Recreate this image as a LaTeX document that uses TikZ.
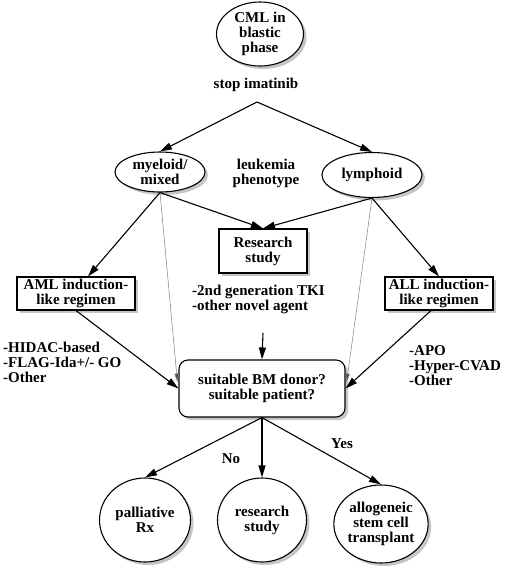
\documentclass[tikz,border=0pt]{standalone}
\usepackage{fontspec}
\setmainfont{Liberation Serif}
\usetikzlibrary{shapes.geometric,shadows,arrows.meta,calc}
\begin{document}
\begin{tikzpicture}[x=1pt,y=-1pt,
  every node/.style={font=\fontsize{15}{15}\selectfont\bfseries, align=center},
  shad/.style={drop shadow={shadow xshift=3pt,shadow yshift=-3pt,fill=black!45}},
  oval/.style={ellipse,draw,fill=white,line width=1.1pt,inner sep=0pt,shad},
  rbox/.style={rectangle,draw,fill=white,line width=1.1pt,inner sep=0pt,shad},
  lbl/.style={inner sep=0pt},
  arr/.style={line width=1.1pt,-{Triangle[length=12pt,width=7pt]}},
  garr/.style={line width=0.5pt,draw=black!50,-{Triangle[length=9pt,width=4pt,fill=black!70]}}
]
\useasboundingbox (0,0) rectangle (520,566);
\node[oval,minimum width=87pt,minimum height=64pt] (cml) at (260,34) {CML in\\blastic\\phase};
\node[lbl] (stop) at (256,85) {stop imatinib};
\coordinate (split) at (257,102);
\node[oval,minimum width=90pt,minimum height=40pt] (mye) at (160,172) {myeloid/\\mixed};
\node[lbl] (leuk) at (266,173) {leukemia\\phenotype};
\node[oval,minimum width=100pt,minimum height=45pt] (lym) at (372,175) {lymphoid};
\node[rbox,minimum width=88pt,minimum height=44pt] (res) at (263,251) {Research\\study};
\node[rbox,minimum width=118pt,minimum height=33pt] (aml) at (76,293.5) {AML induction-\\like regimen};
\node[rbox,minimum width=108pt,minimum height=33pt] (all) at (439,293.5) {ALL induction-\\like regimen};
\node[lbl,anchor=west,align=left] (tki) at (192,299) {-2nd generation TKI\\-other novel agent};
\coordinate (tkia) at (263,333);
\node[rbox,rounded corners=9pt,minimum width=166pt,minimum height=57pt] (dec) at (262,388.5) {suitable BM donor?\\suitable patient?};
\node[lbl,anchor=west,align=left] (hid) at (3,362) {-HIDAC-based\\-FLAG-Ida+/- GO\\-Other};
\node[lbl,anchor=west,align=left] (apo) at (409,366) {-APO\\-Hyper-CVAD\\-Other};
\node[oval,minimum width=91pt,minimum height=84pt] (pal) at (145,520) {palliative\\Rx};
\node[oval,minimum width=89pt,minimum height=84pt] (rs) at (262,520) {research\\study};
\node[oval,minimum width=93pt,minimum height=78pt] (allo) at (381,524) {allogeneic\\stem cell\\transplant};
\node[lbl] (no) at (231,459) {No};
\node[lbl] (yes) at (342,444) {Yes};

\draw[arr] (split) -- (mye.north);
\draw[arr] (split) -- (lym.north);
\draw[arr] (mye.south) -- ($(aml.north)+(12,0)$);
\draw[arr] (mye.south) -- (res.north);
\draw[arr] (lym.south) -- (res.north);
\draw[arr] (lym.south) -- (all.north);
\draw[garr] (mye.south) -- ($(dec.west)+(-1,-6)$);
\draw[garr] (lym.south) -- ($(dec.east)+(1,-6)$);
\draw[arr] (aml.south) -- (dec.west);
\draw[arr] ($(all.south)+(-8,0)$) -- (dec.east);
\draw[arr] (tkia) -- (dec.north);
\draw[arr] (dec.south) -- (pal.north);
\draw[arr] (dec.south) -- (rs.north);
\draw[arr] (dec.south) -- (allo.north);
\end{tikzpicture}
\end{document}
